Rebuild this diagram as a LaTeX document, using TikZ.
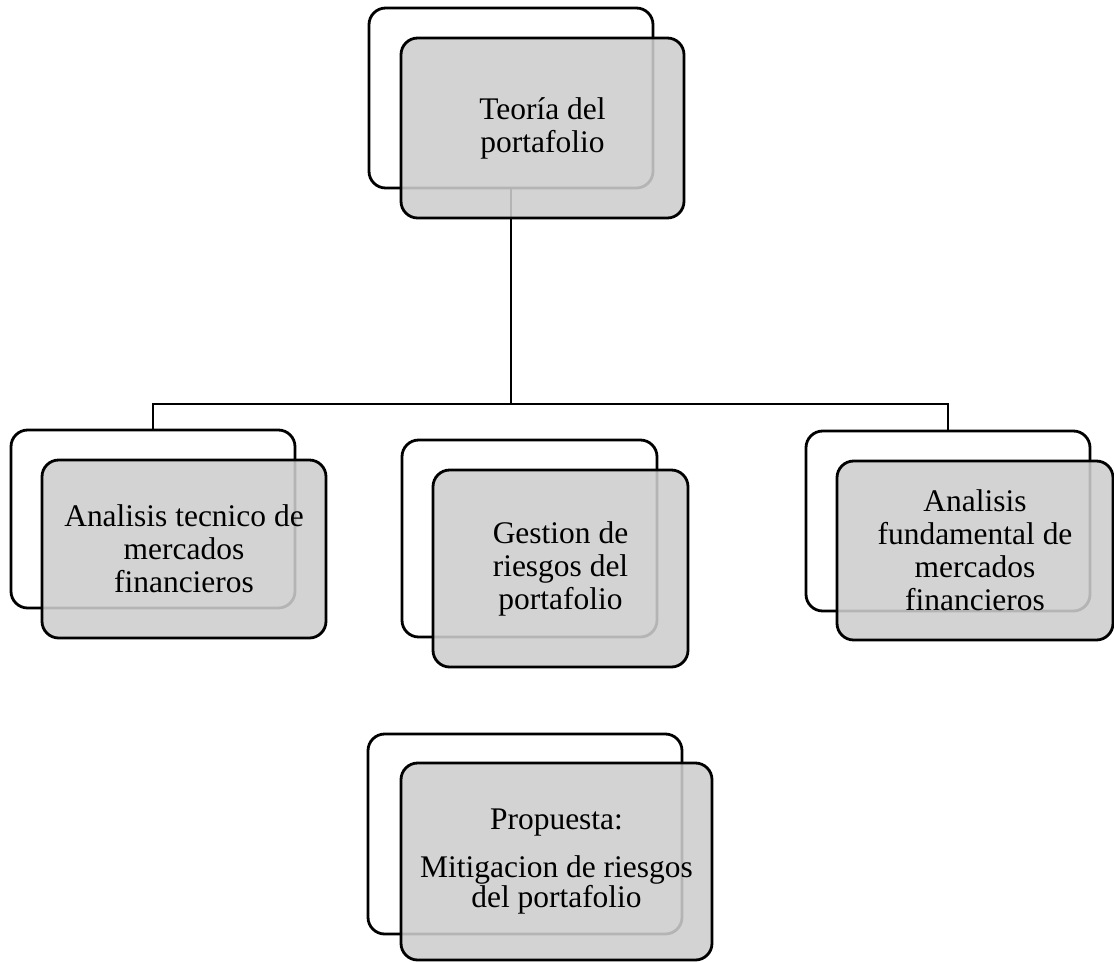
\documentclass[tikz,border=0pt]{standalone}
\usepackage{fontspec}
\setmainfont{Liberation Serif}
\begin{document}
\begin{tikzpicture}[x=0.75pt,y=-0.75pt,
  backbox/.style={draw=black, line width=2.1pt, rounded corners=12.5pt, fill=white,
    inner sep=0pt, minimum width=#1},
  frontbox/.style={draw=black, line width=2.1pt, rounded corners=12.5pt,
    fill={rgb,255:red,205;green,205;blue,205}, fill opacity=0.88, text opacity=1,
    inner sep=0pt, align=center, font=\fontsize{23.6}{24.75}\selectfont},
  link/.style={draw=black, line width=2.1pt}]
\useasboundingbox (0,0) rectangle (1114,961);

% back layer
\node[backbox=213pt, minimum height=135pt] (tb) at (511,98) {};
\node[backbox=213pt, minimum height=133.5pt] (lb) at (153,519) {};
\node[backbox=191.25pt, minimum height=147.75pt] (mb) at (529.5,538.5) {};
\node[backbox=213pt, minimum height=135pt] (rb) at (948,521) {};
\node[backbox=235.5pt, minimum height=150pt] (pb) at (525,834) {};

% connectors
\coordinate (bus) at (511,404);
\draw[link] (tb.south) -- (bus);
\draw[link] (lb.north) |- (bus) -| (rb.north);

% front layer
\node[frontbox, minimum width=212.25pt, minimum height=135pt] (tf) at (542.5,128)
  {Teoría del\\portafolio};
\node[frontbox, minimum width=213pt, minimum height=133.5pt] (lf) at (184,549)
  {Analisis tecnico de\\mercados\\financieros};
\node[frontbox, minimum width=191.25pt, minimum height=147.75pt] (mf) at (560.5,568.5)
  {Gestion de\\riesgos del\\portafolio};
\node[frontbox, minimum width=207pt, minimum height=134.25pt] (rf) at (975,550.5)
  {Analisis\\fundamental de\\mercados\\financieros};
\node[frontbox, minimum width=233.25pt, minimum height=147.75pt,
  font=\fontsize{23.6}{22.5}\selectfont] (pf) at (556.5,861.5)
  {Propuesta:\\[13.5pt]Mitigacion de riesgos\\del portafolio};
\end{tikzpicture}
\end{document}
